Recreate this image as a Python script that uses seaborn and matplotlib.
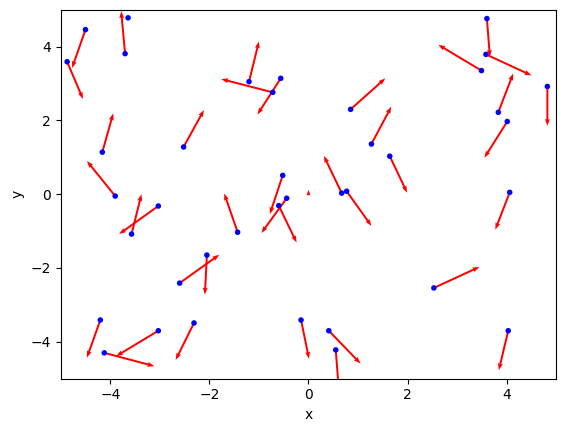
import matplotlib
matplotlib.use("Agg")
import matplotlib.pyplot as plt
import seaborn as sns
import numpy as np
import pandas as pd

# point positions
px = [-4.50, -4.87, -3.70, -3.64, -1.20, -0.72, -0.56, -2.52, 0.85, 1.27,
      3.60, 3.58, 3.49, 4.82, 3.83, 4.01, -4.16, -3.90, -3.03, -3.57,
      -0.52, -0.44, -0.60, -1.43, 1.64, 0.67, 0.77, 4.06, -4.20, -4.12,
      -3.03, -2.60, -2.05, -2.31, -0.15, 0.41, 0.55, 2.53, 4.03]
py = [4.46, 3.59, 3.81, 4.78, 3.05, 2.76, 3.14, 1.28, 2.30, 1.36,
      4.76, 3.79, 3.35, 2.92, 2.22, 1.97, 1.14, -0.05, -0.32, -1.08,
      0.51, -0.11, -0.31, -1.03, 1.03, 0.03, 0.08, 0.05, -3.41, -4.30,
      -3.70, -2.41, -1.65, -3.49, -3.41, -3.70, -4.22, -2.54, -3.70]
# arrow vectors from each point
pu = [-0.27, 0.32, -0.08, 0.0, 0.20, -1.04, -0.47, 0.41, 0.70, 0.40,
      0.06, 0.92, -0.87, 0.0, 0.30, -0.46, 0.22, -0.57, -0.79, 0.20,
      -0.26, -0.51, 0.36, -0.27, 0.35, -0.36, 0.50, -0.29, -0.27, 1.01,
      -0.85, 0.80, -0.04, -0.37, 0.16, 0.64, 0.06, 0.92, -0.19]
pv = [-1.04, -1.01, 1.15, 0.0, 1.09, 0.36, -0.98, 1.00, 0.84, 1.01,
      -1.04, -0.57, 0.70, -1.07, 1.05, -0.98, 1.05, 0.95, -0.76, 1.08,
      -1.05, -0.94, -1.00, 1.05, -0.99, 1.01, -0.94, -1.01, -1.02, -0.36,
      -0.69, 0.77, -1.07, -1.00, -1.05, -0.89, -1.05, 0.57, -1.07]
# extra arrow without a point (at origin)
ex = [0.0]
ey = [-0.03]
eu = [0.0]
ev = [0.15]

df = pd.DataFrame({"x": px, "y": py})

fig = plt.figure(figsize=(5.65, 4.32), dpi=100)
ax = fig.add_axes([0.1074, 0.1234, 0.8772, 0.8541])

ax.quiver(px + ex, py + ey, pu + eu, pv + ev, color="red",
          angles="xy", scale_units="xy", scale=1,
          width=0.004, headwidth=2.5, headlength=3.5, headaxislength=3.2,
          zorder=2)
sns.scatterplot(data=df, x="x", y="y", ax=ax, color="blue", s=16,
                edgecolor="none", zorder=3)

ax.set_xlim(-5, 5)
ax.set_ylim(-5, 5)
ax.set_xticks([-4, -2, 0, 2, 4])
ax.set_yticks([-4, -2, 0, 2, 4])
ax.set_xlabel("x")
ax.set_ylabel("y")

fig.savefig("out.png", dpi=100)
